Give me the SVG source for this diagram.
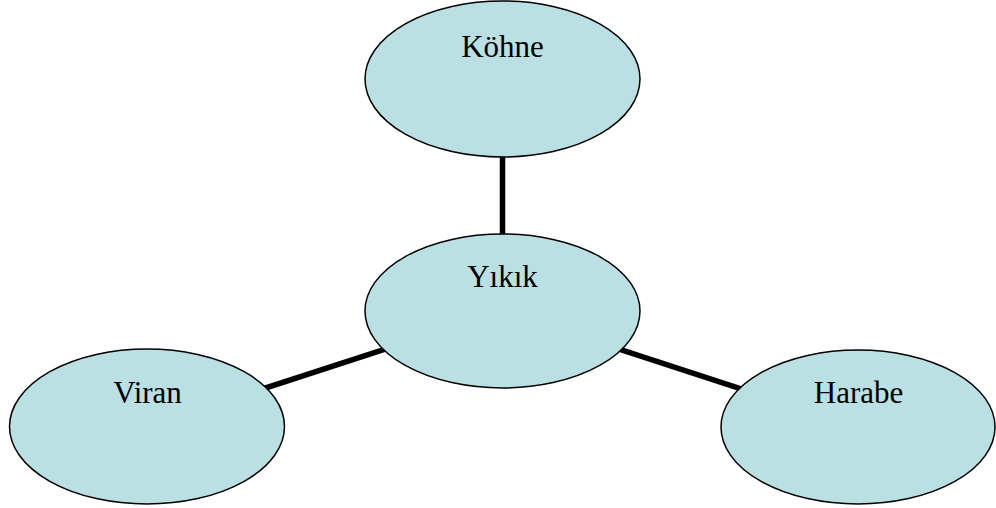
<svg xmlns="http://www.w3.org/2000/svg" width="996" height="508" viewBox="0 0 996 508">
<style>
.node ellipse{fill:#BBE0E3;stroke:#000;stroke-width:1.5}
.node text{font-family:"Liberation Serif","Times New Roman",serif;font-size:31px;fill:#000;text-anchor:middle}
.conn line{stroke:#000;stroke-width:5.5}
</style>
<rect width="996" height="508" fill="#fff"/>
<g id="connectors" class="conn">
<line x1="502.5" y1="79" x2="502.5" y2="311"/>
<line x1="502.5" y1="311" x2="147" y2="426.5"/>
<line x1="502.5" y1="311" x2="858" y2="427"/>
</g>
<g id="kohne" class="node">
<ellipse cx="502.5" cy="79" rx="137.5" ry="78"/>
<text x="502.5" y="57">Köhne</text>
</g>
<g id="yikik" class="node">
<ellipse cx="502.5" cy="311" rx="137.5" ry="77"/>
<text x="502.5" y="287">Yıkık</text>
</g>
<g id="viran" class="node">
<ellipse cx="147" cy="426.5" rx="137.5" ry="77.5"/>
<text x="147.5" y="403">Viran</text>
</g>
<g id="harabe" class="node">
<ellipse cx="858" cy="427" rx="137" ry="77"/>
<text x="858.5" y="403">Harabe</text>
</g>
</svg>
